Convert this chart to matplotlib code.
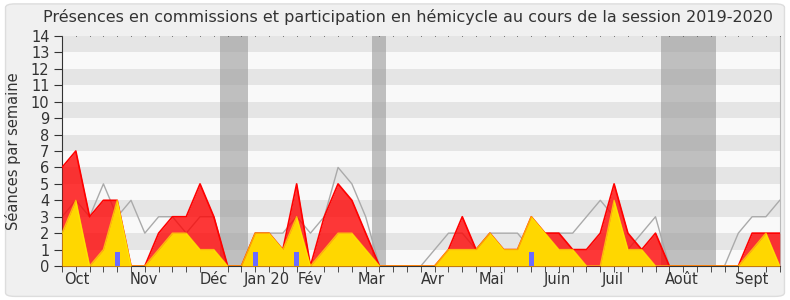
import matplotlib
matplotlib.use("Agg")
import matplotlib.pyplot as plt
from matplotlib.patches import FancyBboxPatch
import numpy as np

# weekly values, session 2019-2020 (53 weeks)
presence_commission = [6, 7, 3, 4, 4, 0, 0, 2, 3, 3, 5, 3, 0, 0, 2, 2, 1, 5, 0, 3,
                       5, 4, 2, 0, 0, 0, 0, 0, 1, 3, 1, 2, 1, 1, 3, 2, 2, 1, 1, 2,
                       5, 2, 1, 2, 0, 0, 0, 0, 0, 0, 2, 2, 2]
participation = [2, 4, 0, 1, 4, 0, 0, 1, 2, 2, 1, 1, 0, 0, 2, 2, 1, 3, 0, 1,
                 2, 2, 1, 0, 0, 0, 0, 0, 1, 1, 1, 2, 1, 1, 3, 2, 1, 1, 0, 0,
                 4, 1, 1, 0, 0, 0, 0, 0, 0, 0, 1, 2, 0]
mediane = [3, 4, 3, 5, 3, 4, 2, 3, 3, 2, 3, 3, 0, 0, 2, 2, 2, 3, 2, 3,
           6, 5, 3, 0, 0, 0, 0, 1, 2, 2, 1, 2, 2, 2, 1, 2, 2, 2, 3, 4,
           3, 1, 2, 3, 0, 0, 0, 0, 0, 2, 3, 3, 4]
questions_weeks = [4, 14, 17, 34]
questions_vals = [0.85, 0.85, 0.85, 0.85]

vacances = [(11.45, 13.47), (22.45, 23.45), (43.4, 47.4)]

mois = ["Oct", "Nov", "Déc", "Jan 20", "Fév", "Mar", "Avr", "Mai", "Juin", "Juil", "Août", "Sept"]
mois_pos = [1.1, 5.9, 11.0, 14.8, 18.0, 22.4, 26.9, 31.1, 35.9, 39.9, 44.9, 50.0]

weeks = np.arange(len(presence_commission))

fig = plt.figure(figsize=(7.9, 3.0), dpi=100)
fig.patch.set_facecolor("white")
fig.patches.append(FancyBboxPatch((0.007, 0.012), 0.986, 0.975, boxstyle="round,pad=0,rounding_size=0.012",
                                  transform=fig.transFigure, facecolor="#f0f0f0", edgecolor="#dddddd",
                                  linewidth=1, zorder=-10))

ax = fig.add_axes([0.0785, 0.1133, 0.9085, 0.7667])
ax.set_facecolor("#f9f9f9")

# background stripes
for y in range(1, 14, 2):
    ax.axhspan(y, y + 1, color="#e5e5e5", lw=0, zorder=0)

# holidays
for a, b in vacances:
    ax.axvspan(a, b, color="#999999", alpha=0.6, lw=0, zorder=1)

ax.plot(weeks, mediane, color="#aaaaaa", lw=1, zorder=2)

ax.fill_between(weeks, presence_commission, color="#ff0000", alpha=0.78, lw=0, zorder=3)
ax.plot(weeks, presence_commission, color="#ff0000", lw=1.2, zorder=4)
ax.fill_between(weeks, participation, color="#ffd700", lw=0, zorder=5)
ax.plot(weeks, participation, color="#ffee00", lw=1, alpha=0.7, zorder=6)

ax.bar(questions_weeks, questions_vals, width=0.34, color="#6b6bff", zorder=7)

ax.set_xlim(0, 52)
ax.set_ylim(0, 14)
ax.set_yticks(range(0, 15))
ax.tick_params(axis="y", labelsize=10.5, colors="#333333", length=6, pad=3)

ax.set_xticks(weeks, minor=True)
ax.set_xticks(mois_pos)
ax.set_xticklabels(mois)
ax.tick_params(axis="x", which="major", length=0, labelsize=10.5, labelcolor="#333333", pad=4)
ax.tick_params(axis="x", which="minor", length=4, color="#333333", bottom=True, direction="out")

# small dots along the top edge, one per week
ax.plot(weeks, np.full(len(weeks), 14), ls="none", marker="s", ms=0.5, mew=0, color="#555555",
        clip_on=False, zorder=8)

for s in ["left", "bottom"]:
    ax.spines[s].set_color("#333333")
ax.spines["top"].set_visible(False)
ax.spines["right"].set_color("#bbbbbb")

ax.set_ylabel("Séances par semaine", fontsize=10.5, color="#333333", labelpad=7)
fig.text(0.516, 0.943, "Présences en commissions et participation en hémicycle au cours de la session 2019-2020",
         ha="center", va="center", fontsize=11.5, color="#333333")

fig.savefig("out.png", dpi=100, facecolor=fig.get_facecolor())
